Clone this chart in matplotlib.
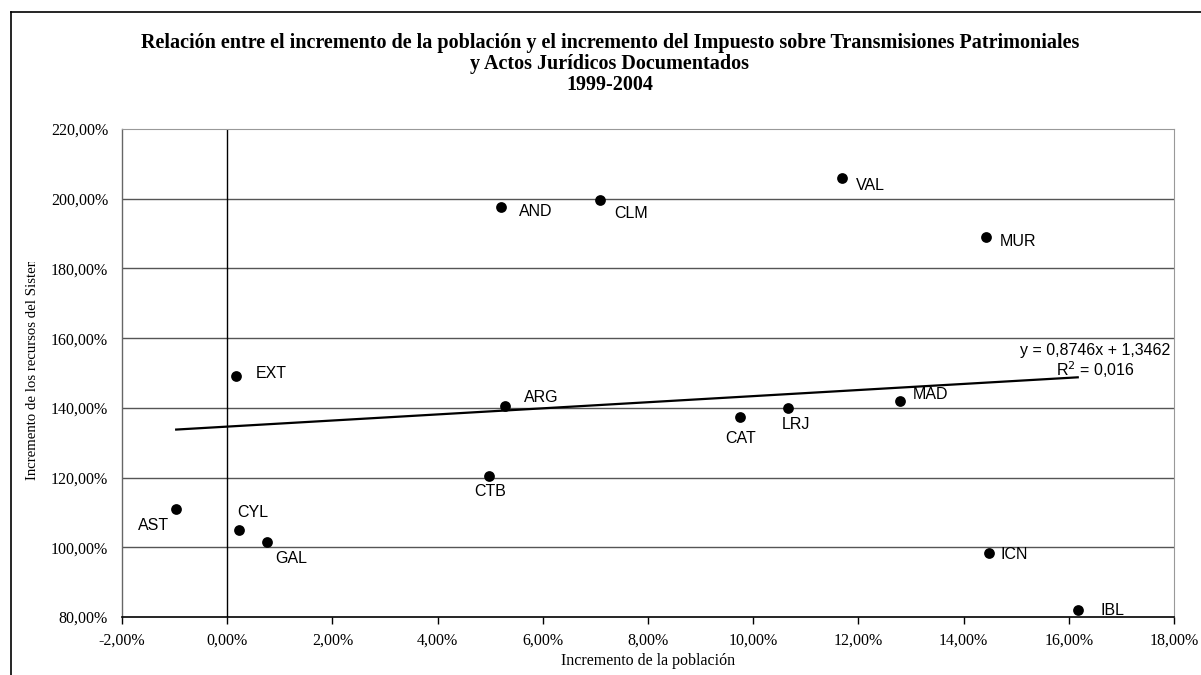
import matplotlib
matplotlib.use("Agg")
import matplotlib.pyplot as plt
import numpy as np
from matplotlib.ticker import FuncFormatter, MultipleLocator
from matplotlib.patches import Rectangle

# ---- data (percent values) ----
regions = ["AST", "EXT", "CYL", "GAL", "CTB", "AND", "ARG", "CLM", "CAT",
           "LRJ", "VAL", "MAD", "MUR", "ICN", "IBL"]
pop_growth = [-0.97, 0.17, 0.23, 0.75, 4.97, 5.21, 5.28, 7.08, 9.74,
              10.67, 11.69, 12.79, 14.42, 14.49, 16.17]
tax_growth = [111.0, 149.1, 104.9, 101.4, 120.5, 197.5, 140.6, 199.5, 137.5,
              140.1, 206.0, 141.9, 189.0, 98.3, 82.0]

trend_slope = 0.8746
trend_intercept = 1.3462
trend_r2 = 0.016

title_lines = ["Relación entre el incremento de la población y el incremento del Impuesto sobre Transmisiones Patrimoniales",
               "y Actos Jurídicos Documentados",
               "1999-2004"]
xlabel = "Incremento de la población"
ylabel = "Incremento de los recursos del Sistema"

# label offsets in pixels (ha, va, dx, dy) -- styling only
label_style = {
    "AST": ("right", "center", -7, -17),
    "EXT": ("left", "center", 20, 3),
    "CYL": ("center", "center", 14, 18),
    "GAL": ("left", "center", 9, -16),
    "CTB": ("center", "center", 2, -16),
    "AND": ("left", "center", 18, -4),
    "ARG": ("left", "center", 19, 8),
    "CLM": ("left", "center", 15, -13),
    "CAT": ("center", "center", 1, -22),
    "LRJ": ("center", "center", 7, -17),
    "VAL": ("left", "center", 14, -8),
    "MAD": ("left", "center", 13, 7),
    "MUR": ("left", "center", 14, -4),
    "ICN": ("left", "center", 11, -1),
    "IBL": ("left", "center", 23, 0),
}

serif = "Liberation Serif"
sans = "Liberation Sans"

W, H = 1201, 675
fig = plt.figure(figsize=(W / 100, H / 100), dpi=100)
fig.patch.set_facecolor("white")

L, R, T, B = 122, 1174, 129, 617
ax = fig.add_axes([L / W, 1 - B / H, (R - L) / W, (B - T) / H])

ax.set_xlim(-2, 18)
ax.set_ylim(80, 220)

# grid
for yv in np.arange(100, 220, 20):
    ax.axhline(yv, color="#555555", lw=1.0, zorder=1)
ax.axvline(0, color="black", lw=1.0, zorder=1)

# points
ax.scatter(pop_growth, tax_growth, s=60, color="black", zorder=3, linewidths=0)

# trendline
xs = np.array([min(pop_growth), max(pop_growth)])
ys = (trend_slope * xs / 100 + trend_intercept) * 100
ax.plot(xs, ys, color="black", lw=1.6, zorder=2)

# labels
for name, xv, yv in zip(regions, pop_growth, tax_growth):
    ha, va, dx, dy = label_style[name]
    ax.annotate(name, (xv, yv), xytext=(dx, dy), textcoords="offset pixels",
                ha=ha, va=va, fontsize=11.5, family=sans, zorder=4)

# trend equation
eq_x = 1095
ax.text(eq_x / W, 1 - 350 / H, f"y = {trend_slope:.4f}x + {trend_intercept:.4f}".replace(".", ","),
        transform=fig.transFigure, ha="center", va="center", fontsize=11.5, family=sans)
ax.text(eq_x / W, 1 - 370 / H, f"R$^2$ = {trend_r2:.3f}".replace(".", ","),
        transform=fig.transFigure, ha="center", va="center", fontsize=11.5, family=sans)

# axes style
ax.xaxis.set_major_locator(MultipleLocator(2))
ax.yaxis.set_major_locator(MultipleLocator(20))
ax.xaxis.set_major_formatter(FuncFormatter(lambda v, p: f"{v:.2f}%".replace(".", ",")))
ax.yaxis.set_major_formatter(FuncFormatter(lambda v, p: f"{v:.2f}%".replace(".", ",")))
ax.tick_params(axis="x", direction="out", length=5, width=1, color="black", pad=6,
               labelsize=11.5)
ax.tick_params(axis="y", length=0, pad=10, labelsize=11.5)
for lab in ax.get_xticklabels() + ax.get_yticklabels():
    lab.set_family(serif)

ax.spines["bottom"].set_color("black")
ax.spines["bottom"].set_linewidth(1.2)
ax.spines["left"].set_color("#666666")
ax.spines["left"].set_linewidth(1.0)
ax.spines["top"].set_color("#999999")
ax.spines["right"].set_color("#999999")

# axis titles
fig.text(648 / W, 1 - 661 / H, xlabel, ha="center", va="center", fontsize=11.5, family=serif)
yl = fig.text(33 / W, 1 - 480 / H, ylabel, ha="left", va="center", rotation=90,
              rotation_mode="anchor", fontsize=10.6, family=serif)
clip = Rectangle((0, 0), 1, 1 - 262 / H, transform=fig.transFigure)
yl.set_clip_path(clip)
yl.set_clip_on(True)

# title
for i, line in enumerate(title_lines):
    fig.text(610 / W, 1 - (43 + 21 * i) / H, line, ha="center", va="center",
             fontsize=14.5, fontweight="bold", family=serif)

# outer border (cut off at right and bottom)
fig.add_artist(plt.Line2D([11 / W, 11 / W], [0, 1 - 12 / H], transform=fig.transFigure,
                          color="black", lw=1.2))
fig.add_artist(plt.Line2D([11 / W, 1], [1 - 12 / H, 1 - 12 / H], transform=fig.transFigure,
                          color="black", lw=1.2))

fig.savefig("out.png", dpi=100)
